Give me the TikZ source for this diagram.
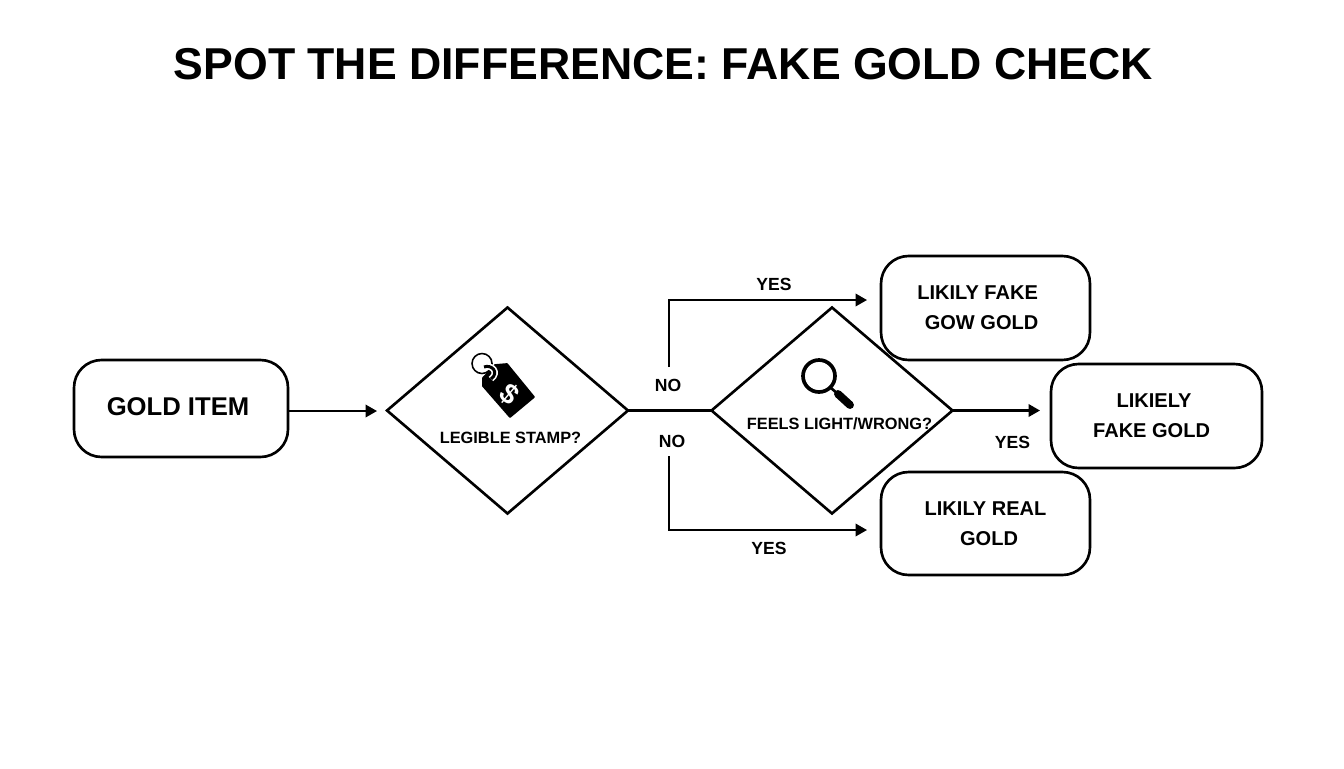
\documentclass[tikz,border=0pt]{standalone}
\usepackage{fontspec}
\setmainfont{Liberation Sans}
\usetikzlibrary{shapes.geometric,arrows.meta}
\tikzset{
	main/.style = {draw, rounded corners=5.5mm, line width=1.5pt, fill=white, align=center, inner sep=0pt, outer sep=0pt, font=\bfseries\fontsize{11.4}{17}\selectfont},
	choice/.style = {draw, diamond, line width=1.5pt, fill=white, inner sep=0pt, outer sep=0pt, minimum width=4.82cm, minimum height=4.12cm},
	ask/.style = {font=\bfseries\fontsize{9.3}{11}\selectfont, inner sep=0pt},
	lab/.style = {font=\bfseries\fontsize{10}{12}\selectfont, inner sep=0pt},
	arr/.style = {-{Triangle[length=2.3mm,width=2.5mm]}, line width=1.2pt},
}

\begin{document}
\begin{tikzpicture}[x=0.02cm, y=-0.02cm]
	\useasboundingbox (0, 0) rectangle (1344, 768);
	\node[font=\bfseries\fontsize{25.4}{30}\selectfont, inner sep=0pt] (title) at (663.5, 64){SPOT THE DIFFERENCE: FAKE GOLD CHECK};
	\node[main, minimum width=4.28cm, minimum height=1.94cm, font=\bfseries\fontsize{14.6}{17}\selectfont] (item) at (181, 408.5){\raisebox{1.7pt}{GOLD ITEM}\kern3.4pt};
	\node[main, minimum width=4.18cm, minimum height=2.08cm] (gow) at (985.5, 308){LIKILY FAKE\kern9pt\\GOW GOLD\kern4.5pt};
	\node[main, minimum width=4.18cm, minimum height=2.06cm] (real) at (985.5, 523.5){LIKILY REAL\\\kern4pt GOLD};
	\node[main, minimum width=4.22cm, minimum height=2.08cm] (fake) at (1156.5, 416){LIKIELY\kern2.8pt\\FAKE GOLD\kern5.6pt};
	\node[choice] (stamp) at (507.5, 410.5){};
	\node[choice] (light) at (832, 410.5){};
	\node[ask] (stamptxt) at (510.5, 438){LEGIBLE STAMP?};
	\node[ask] (lighttxt) at (839.5, 424){FEELS LIGHT/WRONG?};
	% free ends
	\coordinate (itemend) at (377, 411);
	\coordinate (upstart) at (669, 367);
	\coordinate (upend) at (867, 300);
	\coordinate (downstart) at (669, 456);
	\coordinate (downend) at (867, 530);
	\coordinate (fakeend) at (1040, 410.5);
	\draw[arr] (item.east |- itemend) -- (itemend);
	\draw[line width=1.2pt] (stamp.east) -- (light.west);
	\draw[arr] (upstart) |- (upend);
	\draw[arr] (downstart) |- (downend);
	\draw[arr] (light.east) -- (fakeend);
	\node[lab] (yesup) at (774, 284){YES};
	\node[lab] (noup) at (668, 385){NO};
	\node[lab] (nodown) at (672, 441){NO};
	\node[lab] (yesdown) at (769, 548){YES};
	\node[lab] (yesfake) at (1012.5, 442){YES};
	% price tag
	\fill[line join=round, draw, line width=1pt] (483, 378) -- (495, 365) -- (507, 364) -- (534, 397) -- (510, 417) -- (483, 386) -- cycle;
	\draw[line width=0.9pt] (482, 363.5) circle[radius=10];
	\draw[white, line width=3.6pt] (484, 367) .. controls (491, 364) and (500, 372) .. (491, 379);
	\draw[line width=1.7pt] (484, 367) .. controls (491, 364) and (500, 372) .. (491, 379);
	\node[white, font=\bfseries\fontsize{16}{16}\selectfont, rotate=-40, inner sep=0pt] (dollar) at (510, 394){\$};
	% magnifier
	\draw[line width=2.1pt] (819, 376) circle[radius=16];
	\draw[line width=1.5pt] (831, 388) -- (838, 394);
	\draw[line width=4.5pt, line cap=round] (838, 394) -- (850, 405);
\end{tikzpicture}
\end{document}
